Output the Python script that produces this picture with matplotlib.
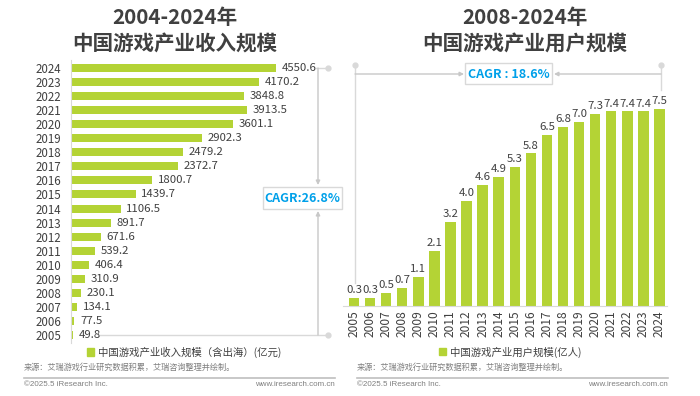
import matplotlib.pyplot as plt
from matplotlib.patches import Rectangle, Patch

plt.rcParams['font.family'] = ['Noto Sans CJK SC', 'DejaVu Sans']

years = [str(y) for y in range(2005, 2025)]
revenue = [49.8, 77.5, 134.1, 230.1, 310.9, 406.4, 539.2, 671.6, 891.7, 1106.5,
           1439.7, 1800.7, 2372.7, 2479.2, 2902.3, 3601.1, 3913.5, 3848.8, 4170.2, 4550.6]
users = [0.3, 0.3, 0.5, 0.7, 1.1, 2.1, 3.2, 4.0, 4.6, 4.9,
         5.3, 5.8, 6.5, 6.8, 7.0, 7.3, 7.4, 7.4, 7.4, 7.5]
rev_labels = [f'{v:.1f}' for v in revenue]
user_labels = [f'{v:.1f}' for v in users]

GREEN = '#b4d335'
DARK = '#404040'
GRID = '#d9d9d9'
BLUE = '#00a0e9'
W, H = 700, 396


def px_axes(fig, x0, y0, x1, y1):
    # pixel box (top-left origin) -> figure axes
    return fig.add_axes([x0 / W, 1 - y1 / H, (x1 - x0) / W, (y1 - y0) / H])


fig = plt.figure(figsize=(7, 3.96), dpi=100)
fig.patch.set_facecolor('white')

# overlay for titles, brackets and footers (pixel coords)
deco = fig.add_axes([0, 0, 1, 1])
deco.set_xlim(0, W)
deco.set_ylim(H, 0)
deco.axis('off')

# ---- left: revenue (horizontal bars)
ax1 = px_axes(fig, 71, 60, 331, 343)
ax1.patch.set_visible(False)
idx = list(range(len(years)))
ax1.barh(idx, revenue, height=0.57, color=GREEN)
ax1.set_xlim(0, 260 / 0.04505)
ax1.set_ylim(-0.57, 19.57)
ax1.set_yticks(idx)
ax1.set_yticklabels(years, fontsize=8.3, color=DARK)
ax1.tick_params(axis='y', length=0, pad=7)
ax1.set_xticks([])
for s in ['top', 'right', 'bottom']:
    ax1.spines[s].set_visible(False)
ax1.spines['left'].set_color(GRID)
for i, v in enumerate(revenue):
    ax1.annotate(rev_labels[i], (v, i), xytext=(4, 0), textcoords='offset points',
                 va='center', ha='left', fontsize=8.2, color=DARK)

# ---- right: users (vertical bars)
ax2 = px_axes(fig, 343, 100, 667, 306)
ax2.patch.set_visible(False)
ax2.bar(idx, users, width=0.65, color=GREEN)
ax2.set_xlim(-0.684, 19.47)
ax2.set_ylim(0, 206 / 26.3)
ax2.set_xticks(idx)
ax2.set_xticklabels(years, rotation=90, fontsize=8.6, color=DARK)
ax2.tick_params(axis='x', length=0, pad=3)
ax2.set_yticks([])
for s in ['top', 'right', 'left']:
    ax2.spines[s].set_visible(False)
ax2.spines['bottom'].set_color(GRID)
for i, v in enumerate(users):
    ax2.annotate(user_labels[i], (i, v), xytext=(0, 2), textcoords='offset points',
                 va='bottom', ha='center', fontsize=8.2, color=DARK, clip_on=False)

# ---- titles
for cx, l1, l2 in [(175, '2004-2024年', '中国游戏产业收入规模'),
                   (525, '2008-2024年', '中国游戏产业用户规模')]:
    deco.text(cx, 18, l1, ha='center', va='center', fontsize=14.8,
              fontweight='bold', color=DARK)
    deco.text(cx, 43, l2, ha='center', va='center', fontsize=14.8,
              fontweight='bold', color=DARK)

# ---- CAGR brackets
arrow = dict(arrowstyle='-|>', color='#c8c8c8', lw=1, mutation_scale=6,
             shrinkA=0, shrinkB=0)
# left
deco.plot([316, 328], [68, 68], color=GRID, lw=1)
deco.plot([100, 328], [335, 335], color=GRID, lw=1)
deco.plot([328, 328], [68, 335], ls='none', marker='o', ms=3.5, color=GRID)
deco.annotate('', xy=(318, 185), xytext=(318, 68), arrowprops=arrow)
deco.annotate('', xy=(318, 211), xytext=(318, 335), arrowprops=arrow)
deco.add_patch(Rectangle((263, 187), 79, 22, fill=False, ec=GRID, lw=1))
deco.text(302.5, 198, 'CAGR:26.8%', ha='center', va='center', fontsize=9,
          fontweight='bold', color=BLUE)
# right
deco.plot([355, 355], [65, 283], color=GRID, lw=1)
deco.plot([661, 661], [65, 90], color=GRID, lw=1)
deco.plot([355, 661], [65, 65], ls='none', marker='o', ms=3.5, color=GRID)
deco.annotate('', xy=(464, 74), xytext=(355, 74), arrowprops=arrow)
deco.annotate('', xy=(554, 74), xytext=(661, 74), arrowprops=arrow)
deco.add_patch(Rectangle((465, 63), 87, 21, fill=False, ec=GRID, lw=1))
deco.text(508.5, 74, 'CAGR : 18.6%', ha='center', va='center', fontsize=9,
          fontweight='bold', color=BLUE)

# ---- legends
leg_kw = dict(frameon=False, fontsize=7.5, handlelength=0.7, handleheight=0.7,
              handletextpad=0.4, loc='center', labelcolor=DARK,
              bbox_transform=fig.transFigure)
ax1.legend(handles=[Patch(color=GREEN, label='中国游戏产业收入规模（含出海）(亿元)')],
           bbox_to_anchor=(184 / W, 1 - 352 / H), **leg_kw)
ax2.legend(handles=[Patch(color=GREEN, label='中国游戏产业用户规模(亿人)')],
           bbox_to_anchor=(510 / W, 1 - 352 / H), **leg_kw)

# ---- footers
for x0, x1 in [(24, 335), (357, 668)]:
    deco.text(x0, 367, '来源：艾瑞游戏行业研究数据积累，艾瑞咨询整理并绘制。',
              ha='left', va='center', fontsize=5.9, color='#7f7f7f')
    deco.plot([x0, x1], [378, 378], color='#bfbfbf', lw=1.2)
    deco.text(x0, 385, '©2025.5 iResearch Inc.', ha='left', va='center',
              fontsize=5.8, color='#7f7f7f', family='Liberation Sans')
    deco.text(x1, 385, 'www.iresearch.com.cn', ha='right', va='center',
              fontsize=5.8, color='#7f7f7f', family='Liberation Sans')

plt.savefig('out.png', dpi=100)
